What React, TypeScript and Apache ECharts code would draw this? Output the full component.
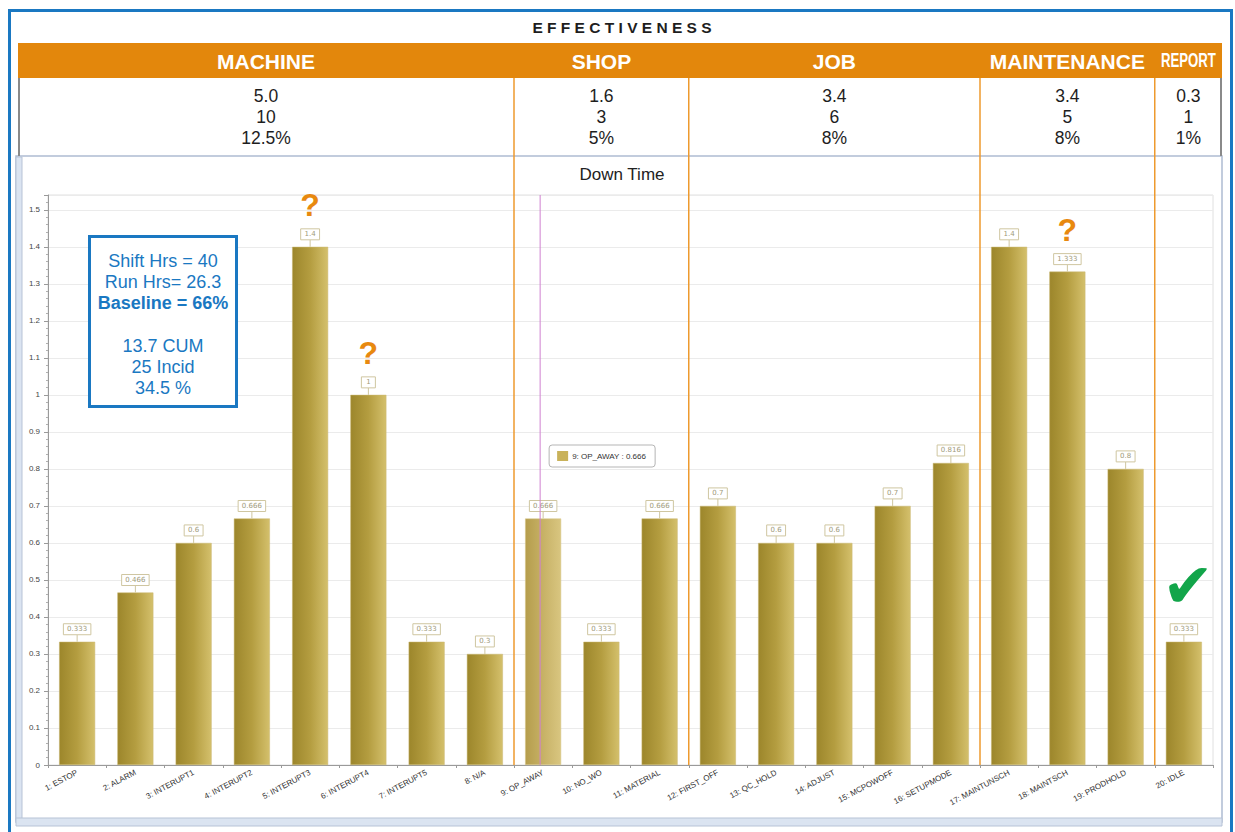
import React, { useEffect, useRef } from "react";
import * as echarts from "echarts";

const categories = [
  "1: ESTOP", "2: ALARM", "3: INTERUPT1", "4: INTERUPT2", "5: INTERUPT3",
  "6: INTERUPT4", "7: INTERUPT5", "8: N/A", "9: OP_AWAY", "10: NO_WO",
  "11: MATERIAL", "12: FIRST_OFF", "13: QC_HOLD", "14: ADJUST", "15: MCPOWOFF",
  "16: SETUPMODE", "17: MAINTUNSCH", "18: MAINTSCH", "19: PRODHOLD", "20: IDLE",
];
const downTime = [
  0.333, 0.466, 0.6, 0.666, 1.4, 1, 0.333, 0.3, 0.666, 0.333,
  0.666, 0.7, 0.6, 0.6, 0.7, 0.816, 1.4, 1.333, 0.8, 0.333,
];
const groupNames = ["MACHINE", "SHOP", "JOB", "MAINTENANCE", "REPORT"];
const groupSizes = [8, 3, 5, 3, 1];
const groupHours = ["5.0", "1.6", "3.4", "3.4", "0.3"];
const groupIncidents = ["10", "3", "6", "5", "1"];
const groupPercents = ["12.5%", "5%", "8%", "8%", "1%"];
const infoLines = ["Shift Hrs = 40", "Run Hrs= 26.3", "Baseline = 66%", "", "13.7 CUM", "25 Incid", "34.5 %"];
const infoBold = [false, false, true, false, false, false, false];
const yMin = 0;
const yMax = 1.54;
const yInterval = 0.1;
const questionBars = ["5: INTERUPT3", "6: INTERUPT4", "18: MAINTSCH"];
const checkBars = ["20: IDLE"];
const hoverCategory = "9: OP_AWAY";

const W = 1235;
const H = 832;
const SANS = "Liberation Sans";
const ORANGE = "#E3870C";
const BLUE = "#1a78c2";

export default function App() {
  const ref = useRef<HTMLDivElement>(null);
  useEffect(() => {
    if (!ref.current) return;
    const chart = echarts.init(ref.current, null, { renderer: "svg" });
    const barGrad = new echarts.graphic.LinearGradient(0, 0, 1, 0, [
      { offset: 0, color: "#9c862b" },
      { offset: 0.5, color: "#b49d40" },
      { offset: 1, color: "#d4c06c" },
    ]);
    const hoverGrad = new echarts.graphic.LinearGradient(0, 0, 1, 0, [
      { offset: 0, color: "#b59d4c" },
      { offset: 1, color: "#d9c680" },
    ]);
    const markData: any[] = [];
    questionBars.forEach((c) => {
      markData.push({
        coord: [c, downTime[categories.indexOf(c)]],
        label: {
          show: true, formatter: "?", offset: [0, -42], fontSize: 32, fontWeight: "bold",
          color: "#E8890F", fontFamily: SANS,
        },
      });
    });
    checkBars.forEach((c) => {
      markData.push({
        coord: [c, downTime[categories.indexOf(c)]],
        label: {
          show: true, formatter: "\u2714", offset: [4, -56], fontSize: 62,
          color: "#12A54A", fontFamily: "DejaVu Sans",
        },
      });
    });

    const option: any = {
      animation: false,
      backgroundColor: "#ffffff",
      textStyle: { fontFamily: SANS },
      grid: {
        left: 48, right: 22, top: 195, bottom: 67, show: true,
        borderColor: "#e0e0e0", borderWidth: 1, backgroundColor: "transparent",
      },
      xAxis: {
        type: "category",
        data: categories,
        axisLine: { lineStyle: { color: "#9a9a9a" } },
        axisTick: { show: true, length: 3, lineStyle: { color: "#9a9a9a" } },
        axisLabel: { rotate: 28, fontSize: 8, color: "#333", margin: 7, interval: 0, fontFamily: SANS },
      },
      yAxis: {
        type: "value",
        min: yMin,
        max: yMax,
        interval: yInterval,
        axisLine: { show: true, lineStyle: { color: "#9a9a9a" } },
        axisTick: { show: true, length: 4, lineStyle: { color: "#9a9a9a" } },
        minorTick: { show: true, splitNumber: 5, length: 2, lineStyle: { color: "#b0b0b0" } },
        splitLine: { lineStyle: { color: "#ebebeb" } },
        axisLabel: { fontSize: 8, color: "#444", showMaxLabel: false, margin: 8, fontFamily: SANS },
      },
      series: [
        {
          type: "bar",
          barWidth: 36,
          data: downTime.map((v, i) =>
            categories[i] === hoverCategory
              ? { value: v, itemStyle: { color: hoverGrad, borderColor: "#d8c88a" } }
              : v
          ),
          itemStyle: { color: barGrad, borderColor: "#cbb972", borderWidth: 0.5 },
          markPoint: {
            silent: true,
            symbol: "circle",
            symbolSize: 1,
            itemStyle: { color: "rgba(0,0,0,0)" },
            data: markData,
          },
        },
        {
          type: "custom",
          z: 5,
          silent: true,
          data: downTime.map((v, i) => [i, v]),
          renderItem: (params: any, api: any) => {
            const p = api.coord([api.value(0), api.value(1)]);
            const txt = String(downTime[params.dataIndex]);
            const w = Math.max(14, txt.length * 4.3 + 6);
            return {
              type: "group",
              children: [
                { type: "line", shape: { x1: p[0], y1: p[1], x2: p[0], y2: p[1] - 7 }, style: { stroke: "#cfc6a0", lineWidth: 1 } },
                { type: "rect", shape: { x: p[0] - w / 2, y: p[1] - 18, width: w, height: 11 }, style: { fill: "#fff", stroke: "#cfc6a0", lineWidth: 1 } },
                {
                  type: "text", x: p[0], y: p[1] - 12.5,
                  style: { text: txt, fontSize: 7, fill: "#a09a7a", align: "center", verticalAlign: "middle", fontFamily: "DejaVu Sans" },
                },
              ],
            };
          },
        },
      ],
    };
    chart.setOption(option);

    const cx = categories.map((_, i) => chart.convertToPixel({ xAxisIndex: 0 } as any, i) as number);
    const y0 = chart.convertToPixel({ yAxisIndex: 0 } as any, yMin) as number;
    const yTop = chart.convertToPixel({ yAxisIndex: 0 } as any, yMax) as number;
    const edges: number[] = [18];
    let idx = 0;
    groupSizes.forEach((s) => {
      idx += s;
      if (idx < categories.length) edges.push((cx[idx - 1] + cx[idx]) / 2);
    });
    edges.push(1222);

    const g: any[] = [];
    g.push({ type: "rect", z: 1, shape: { x: 9.5, y: 10.5, width: 1222, height: 900 }, style: { fill: "none", stroke: BLUE, lineWidth: 3 } });
    g.push({
      type: "text", z: 2, x: 622, y: 27,
      style: { text: "E F F E C T I V E N E S S", fontSize: 15.5, fontWeight: "bold", fill: "#1e1e1e", align: "center", verticalAlign: "middle", fontFamily: SANS },
    });
    g.push({ type: "rect", z: 1, shape: { x: 18, y: 43, width: 1204, height: 35 }, style: { fill: ORANGE } });
    g.push({ type: "line", z: 2, shape: { x1: 19, y1: 78, x2: 19, y2: 156 }, style: { stroke: "#8a8a8a", lineWidth: 2 } });
    g.push({ type: "line", z: 2, shape: { x1: 1221, y1: 78, x2: 1221, y2: 156 }, style: { stroke: "#8a8a8a", lineWidth: 2 } });
    g.push({ type: "rect", z: 1, shape: { x: 16, y: 156, width: 1206, height: 666 }, style: { fill: "none", stroke: "#aebcd2", lineWidth: 1.5 } });
    g.push({ type: "rect", z: 1, shape: { x: 16, y: 157, width: 6, height: 664 }, style: { fill: "#dbe4f1", stroke: "#b7c3d6", lineWidth: 1 } });
    g.push({ type: "rect", z: 1, shape: { x: 16, y: 818, width: 1206, height: 8 }, style: { fill: "#dbe4f1", stroke: "#b7c3d6", lineWidth: 1 } });
    groupNames.forEach((name, i) => {
      const c = (edges[i] + edges[i + 1]) / 2;
      const narrow = name === "REPORT";
      g.push({
        type: "text", z: 3, x: c, y: 61, scaleX: narrow ? 0.66 : 1,
        style: { text: name, fontSize: narrow ? 20 : 21, fontWeight: "bold", fill: "#ffffff", align: "center", verticalAlign: "middle", fontFamily: SANS },
      });
      [groupHours[i], groupIncidents[i], groupPercents[i]].forEach((t, j) => {
        g.push({
          type: "text", z: 3, x: c, y: 96 + j * 21,
          style: { text: t, fontSize: 17.5, fill: "#1e1e1e", align: "center", verticalAlign: "middle", fontFamily: SANS },
        });
      });
    });
    edges.slice(1, -1).forEach((x) => {
      g.push({ type: "line", z: 3, shape: { x1: x, y1: 78, x2: x, y2: y0 }, style: { stroke: "#EE9A2E", lineWidth: 1.5 } });
    });
    g.push({
      type: "text", z: 3, x: 622, y: 174,
      style: { text: "Down Time", fontSize: 17, fill: "#222", align: "center", verticalAlign: "middle", fontFamily: SANS },
    });
    g.push({ type: "rect", z: 3, shape: { x: 89.5, y: 236.5, width: 147, height: 170 }, style: { fill: "#ffffff", stroke: BLUE, lineWidth: 3 } });
    infoLines.forEach((t, i) => {
      if (!t) return;
      g.push({
        type: "text", z: 4, x: 163, y: 261 + i * 21.2,
        style: { text: t, fontSize: 18, fontWeight: infoBold[i] ? "bold" : "normal", fill: BLUE, align: "center", verticalAlign: "middle", fontFamily: SANS },
      });
    });
    // hover crosshair and tooltip
    const hi = categories.indexOf(hoverCategory);
    const px = cx[hi] - 3;
    g.push({ type: "line", z: 50, shape: { x1: px, y1: yTop, x2: px, y2: y0 }, style: { stroke: "#cf80d0", lineWidth: 1 } });
    const tx = cx[hi] + 6;
    const ty = 445;
    g.push({
      type: "group", z: 100, x: tx, y: ty,
      children: [
        { type: "rect", shape: { x: 0, y: 0, width: 106, height: 22, r: 3 }, style: { fill: "#ffffff", stroke: "#b5b5b5", lineWidth: 1 } },
        { type: "rect", shape: { x: 8, y: 6, width: 11, height: 10 }, style: { fill: "#c9b25a" } },
        {
          type: "text", x: 23, y: 11,
          style: { text: `${hoverCategory} : ${downTime[hi]}`, fontSize: 8, fill: "#333", align: "left", verticalAlign: "middle", fontFamily: SANS },
        },
      ],
    });
    chart.setOption({ graphic: g });

    return () => chart.dispose();
  }, []);
  return <div ref={ref} style={{ position: "absolute", left: 0, top: 0, width: W, height: H }} />;
}
